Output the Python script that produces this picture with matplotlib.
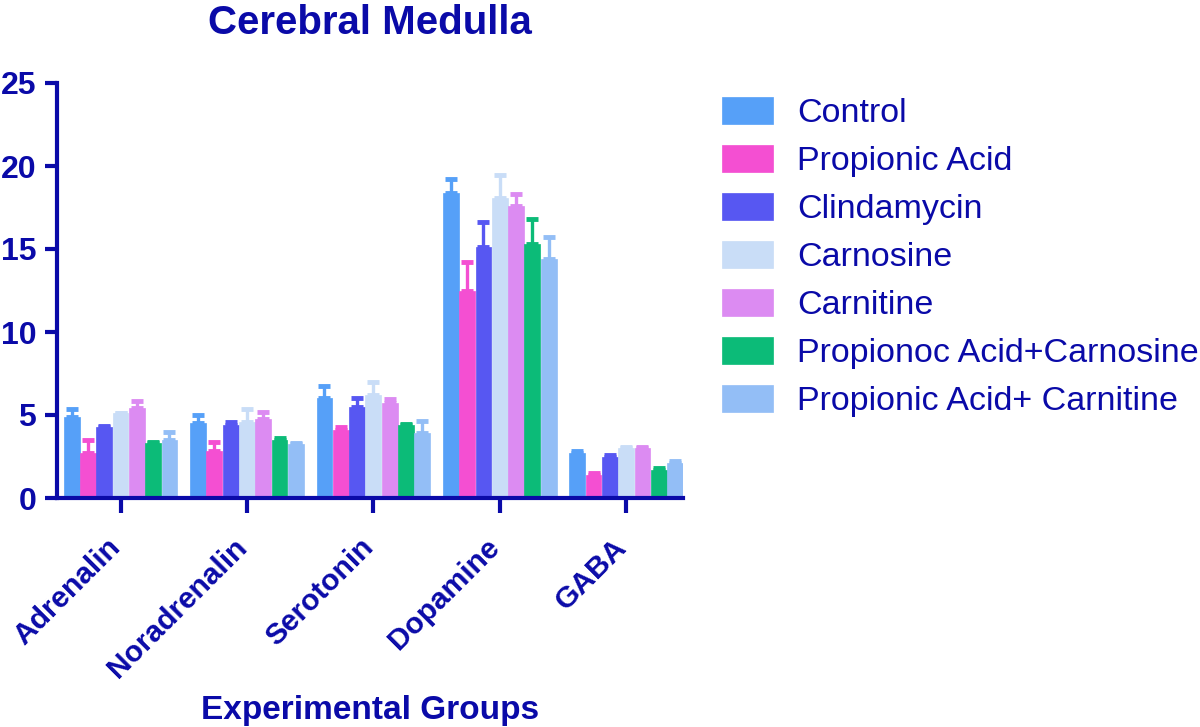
import matplotlib
matplotlib.use("Agg")
import matplotlib.pyplot as plt
import matplotlib.transforms as mtransforms
import numpy as np

plt.rcParams['font.family'] = ['Liberation Sans', 'DejaVu Sans']

categories = ["Adrenalin", "Noradrenalin", "Serotonin", "Dopamine", "GABA"]
groups = ["Control", "Propionic Acid", "Clindamycin", "Carnosine", "Carnitine",
          "Propionoc Acid+Carnosine", "Propionic Acid+ Carnitine"]

control      = [4.85, 4.5, 6.0, 18.35, 2.7]
propionic    = [2.7, 2.85, 4.1, 12.5, 1.4]
clindamycin  = [4.3, 4.4, 5.5, 15.1, 2.5]
carnosine    = [5.1, 4.6, 6.2, 18.05, 3.0]
carnitine    = [5.4, 4.75, 5.7, 17.6, 3.0]
pa_carnosine = [3.3, 3.5, 4.4, 15.3, 1.7]
pa_carnitine = [3.5, 3.25, 3.9, 14.4, 2.1]

control_err      = [0.5, 0.5, 0.75, 0.85, 0.15]
propionic_err    = [0.8, 0.55, 0.2, 1.7, 0.1]
clindamycin_err  = [0.05, 0.2, 0.5, 1.5, 0.1]
carnosine_err    = [0.05, 0.75, 0.8, 1.4, 0.1]
carnitine_err    = [0.45, 0.45, 0.25, 0.7, 0.1]
pa_carnosine_err = [0.05, 0.1, 0.05, 1.5, 0.1]
pa_carnitine_err = [0.5, 0.05, 0.75, 1.35, 0.1]

values = [control, propionic, clindamycin, carnosine, carnitine, pa_carnosine, pa_carnitine]
errors = [control_err, propionic_err, clindamycin_err, carnosine_err, carnitine_err,
          pa_carnosine_err, pa_carnitine_err]
colors = ["#56A0F8", "#F44FD2", "#5757F2", "#C9DDF7", "#DC8BF2", "#0CBB78", "#93BEF6"]

dark = "#0A0AA8"

fig = plt.figure(figsize=(12, 7.27), dpi=100)
ax = fig.add_axes([57/1200, 1-498/727, 626/1200, 415/727])

n = len(groups)
w = 0.129
x = np.arange(len(categories))
for i, (vals, errs, c, g) in enumerate(zip(values, errors, colors, groups)):
    pos = x + (i - (n - 1) / 2) * w
    ax.bar(pos, vals, width=w*0.97, color=c, label=g, edgecolor=c, linewidth=0.5, zorder=2)
    ax.errorbar(pos, vals, yerr=[np.zeros(len(vals)), errs], fmt='none', ecolor=c,
                elinewidth=2.4, capsize=4.5, capthick=3.5, zorder=1)

ax.set_xlim(-0.503, 4.45)
ax.set_ylim(0, 25)
ax.set_yticks([0, 5, 10, 15, 20, 25])
ax.set_xticks(x)
ax.set_xticklabels([""] * len(categories))
offset = mtransforms.ScaledTranslation(-0.14, -0.35, fig.dpi_scale_trans)
for xi, cat in zip(x, categories):
    ax.text(xi, 0, cat, transform=ax.get_xaxis_transform() + offset, rotation=45,
            ha='right', va='top', rotation_mode='anchor', fontsize=21.5,
            fontweight='bold', color=dark)
for lab in ax.get_yticklabels():
    lab.set_fontsize(23)
    lab.set_fontweight('bold')
    lab.set_color(dark)

for s in ['top', 'right']:
    ax.spines[s].set_visible(False)
for s in ['left', 'bottom']:
    ax.spines[s].set_color(dark)
    ax.spines[s].set_linewidth(3)
ax.tick_params(axis='y', direction='out', length=9, width=3, color=dark, pad=6)
ax.tick_params(axis='x', direction='out', length=11, width=3, color=dark, pad=8)

ax.set_title("Cerebral Medulla", fontsize=29, fontweight='bold', color=dark, pad=35)
ax.text(0.5, 0, "Experimental Groups",
        transform=ax.transAxes + mtransforms.ScaledTranslation(0, -2.12, fig.dpi_scale_trans),
        ha='center', va='center', fontsize=24, fontweight='bold', color=dark)

leg = fig.legend(loc='upper left', bbox_to_anchor=(722/1200, 1-97/727), frameon=False,
                 fontsize=24.5, handlelength=1.5, handleheight=0.85, labelspacing=0.46,
                 handletextpad=0.7, borderpad=0, borderaxespad=0)
for t in leg.get_texts():
    t.set_color(dark)

fig.savefig("out.png", dpi=100)
